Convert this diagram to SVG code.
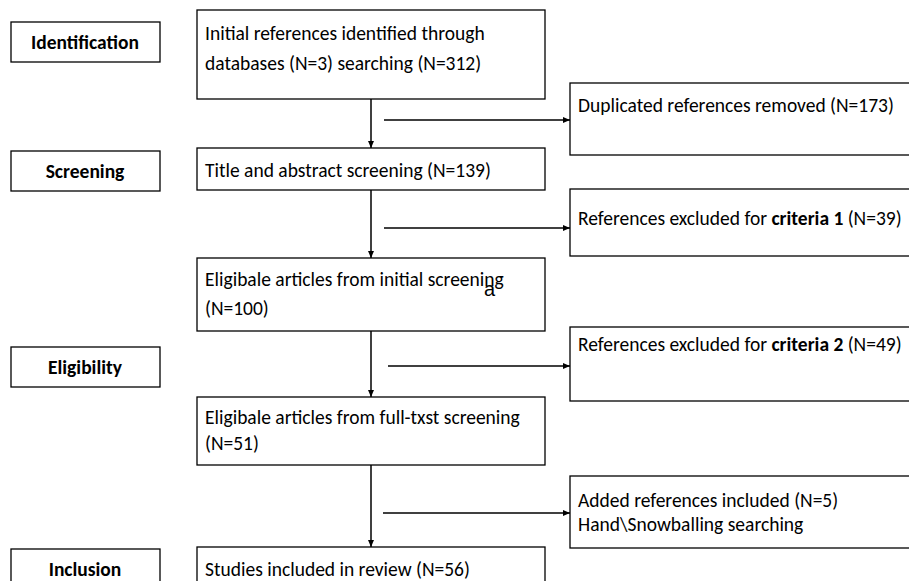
<svg xmlns="http://www.w3.org/2000/svg" width="909" height="581" viewBox="0 0 909 581">
<style>
.b{fill:#fff;stroke:#000;stroke-width:1.3}
text{font-family:Carlito,Lato,"Liberation Sans",sans-serif;font-size:19.5px;fill:#000}
.st{font-weight:bold;text-anchor:middle}
.cn line{stroke:#000;stroke-width:1.5}
</style>
<defs>
<marker id="ah" markerWidth="8" markerHeight="8" refX="7" refY="4" orient="auto" markerUnits="userSpaceOnUse">
<path d="M0,1 L7,4 L0,7 Z" fill="#000"/>
</marker>
</defs>
<rect width="909" height="581" fill="#fff"/>
<g id="stage-identification"><rect class="b" x="11" y="22" width="149" height="40"/><text class="st" x="85" y="49">Identification</text></g>
<g id="stage-screening"><rect class="b" x="11" y="151" width="149" height="40"/><text class="st" x="85" y="178">Screening</text></g>
<g id="stage-eligibility"><rect class="b" x="11" y="347" width="149" height="40"/><text class="st" x="85" y="374">Eligibility</text></g>
<g id="stage-inclusion"><rect class="b" x="11" y="549" width="149" height="40"/><text class="st" x="85" y="576">Inclusion</text></g>

<g id="n1"><rect class="b" x="197" y="10" width="348" height="89"/><text x="205" y="40">Initial references identified through</text><text x="205" y="70">databases (N=3) searching (N=312)</text></g>
<g id="n2"><rect class="b" x="197" y="148" width="348" height="42"/><text x="205" y="177">Title and abstract screening (N=139)</text></g>
<g id="n3"><rect class="b" x="197" y="258" width="348" height="73"/><text x="205" y="286">Eligibale articles from initial screening</text><text x="205" y="315">(N=100)</text><text x="484" y="296" style="font-family:'Liberation Sans',sans-serif;font-size:20px">a</text></g>
<g id="n4"><rect class="b" x="197" y="397" width="348" height="68"/><text x="205" y="424">Eligibale articles from full-txst screening</text><text x="205" y="450">(N=51)</text></g>
<g id="n5"><rect class="b" x="197" y="547" width="348" height="50"/><text x="205" y="576">Studies included in review (N=56)</text></g>

<g id="r1"><rect class="b" x="570" y="83" width="345" height="72"/><text x="578" y="112">Duplicated references removed (N=173)</text></g>
<g id="r2"><rect class="b" x="570" y="189" width="345" height="67"/><text x="578" y="225">References excluded for <tspan font-weight="bold">criteria 1</tspan> (N=39)</text></g>
<g id="r3"><rect class="b" x="570" y="327" width="345" height="74"/><text x="578" y="351">References excluded for <tspan font-weight="bold">criteria 2</tspan> (N=49)</text></g>
<g id="r4"><rect class="b" x="570" y="476" width="345" height="72"/><text x="578" y="507">Added references included (N=5)</text><text x="578" y="531">Hand\Snowballing searching</text></g>

<g id="connectors" class="cn">
<line x1="371" y1="99" x2="371" y2="148" marker-end="url(#ah)"/>
<line x1="371" y1="190" x2="371" y2="258" marker-end="url(#ah)"/>
<line x1="371" y1="331" x2="371" y2="397" marker-end="url(#ah)"/>
<line x1="371" y1="465" x2="371" y2="547" marker-end="url(#ah)"/>
<line x1="384" y1="120" x2="570" y2="120" marker-end="url(#ah)"/>
<line x1="384" y1="228" x2="570" y2="228" marker-end="url(#ah)"/>
<line x1="388" y1="366" x2="570" y2="366" marker-end="url(#ah)"/>
<line x1="383" y1="513" x2="570" y2="513" marker-end="url(#ah)"/>
</g>
</svg>
